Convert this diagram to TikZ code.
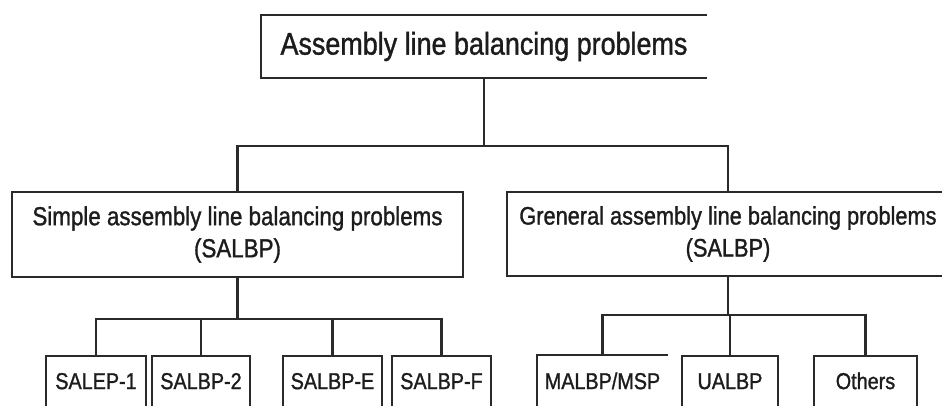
\documentclass[tikz,border=0pt]{standalone}
\usepackage{fontspec}
\setmainfont{Liberation Sans}[FakeStretch=0.86,FakeBold=1.2]
\definecolor{linec}{HTML}{2a2a2a}
\definecolor{textc}{HTML}{1c1c1c}
\begin{document}
\begin{tikzpicture}[x=1pt,y=-1pt,
  box/.style={draw=linec, line width=2.2pt, inner sep=0pt, align=center, text=textc},
  leaf/.style={box, anchor=north, font=\fontsize{23}{27}\selectfont,
    text height=33pt, text depth=50pt},
  wire/.style={draw=linec, line width=2.2pt}]
\useasboundingbox (0,0) rectangle (942,405);
\clip (0,0) rectangle (942,405);

% root of the classification
\node[box, draw=none, minimum width=444pt, minimum height=61pt,
      font=\fontsize{31.3}{37}\selectfont] (top) at (484,46.5)
      {Assembly line balancing problems};
\draw[wire] (top.north east) -- (top.north west) -- (top.south west) -- (top.south east);

% second level
\node[box, minimum width=451pt, minimum height=85pt,
      font=\fontsize{26}{32}\selectfont] (salbp) at (237.5,234.5)
      {Simple assembly line balancing problems\\(SALBP)};
\node[box, minimum width=442pt, minimum height=84pt,
      font=\fontsize{25.3}{32}\selectfont] (galbp) at (728,234)
      {Greneral assembly line balancing problems\\(SALBP)};

% leaves under SALBP
\node[leaf, minimum width=100pt] (s1) at (96,355) {SALEP-1};
\node[leaf, minimum width=98pt]  (s2) at (201,355) {SALBP-2};
\node[leaf, minimum width=99pt]  (sE) at (332.5,355) {SALBP-E};
\node[leaf, minimum width=99pt]  (sF) at (441.5,355) {SALBP-F};

% leaves under GALBP
\node[leaf, draw=none, minimum width=129pt] (m) at (602.5,355) {MALBP/MSP};
\draw[wire] (m.north east) -- (m.north west) -- (m.south west);
\node[leaf, minimum width=96pt]  (u) at (730,355) {UALBP};
\node[leaf, minimum width=103pt] (o) at (865.5,355) {Others};

% bus lines
\coordinate (busA) at (0,146);
\coordinate (busB) at (0,319);
\coordinate (busC) at (0,315);

\draw[wire] (top.south) -- (top.south |- busA);
\draw[wire] (salbp.north) -- (salbp.north |- busA) -- (galbp.north |- busA) -- (galbp.north);

\draw[wire] (salbp.south) -- (salbp.south |- busB);
\draw[wire] (s1.north) -- (s1.north |- busB) -- (sF.north |- busB) -- (sF.north);
\draw[wire] (s2.north) -- (s2.north |- busB);
\draw[wire] (sE.north) -- (sE.north |- busB);

\draw[wire] (galbp.south) -- (galbp.south |- busC);
\draw[wire] (m.north) -- (m.north |- busC) -- (o.north |- busC) -- (o.north);
\draw[wire] (u.north) -- (u.north |- busC);
\end{tikzpicture}
\end{document}
